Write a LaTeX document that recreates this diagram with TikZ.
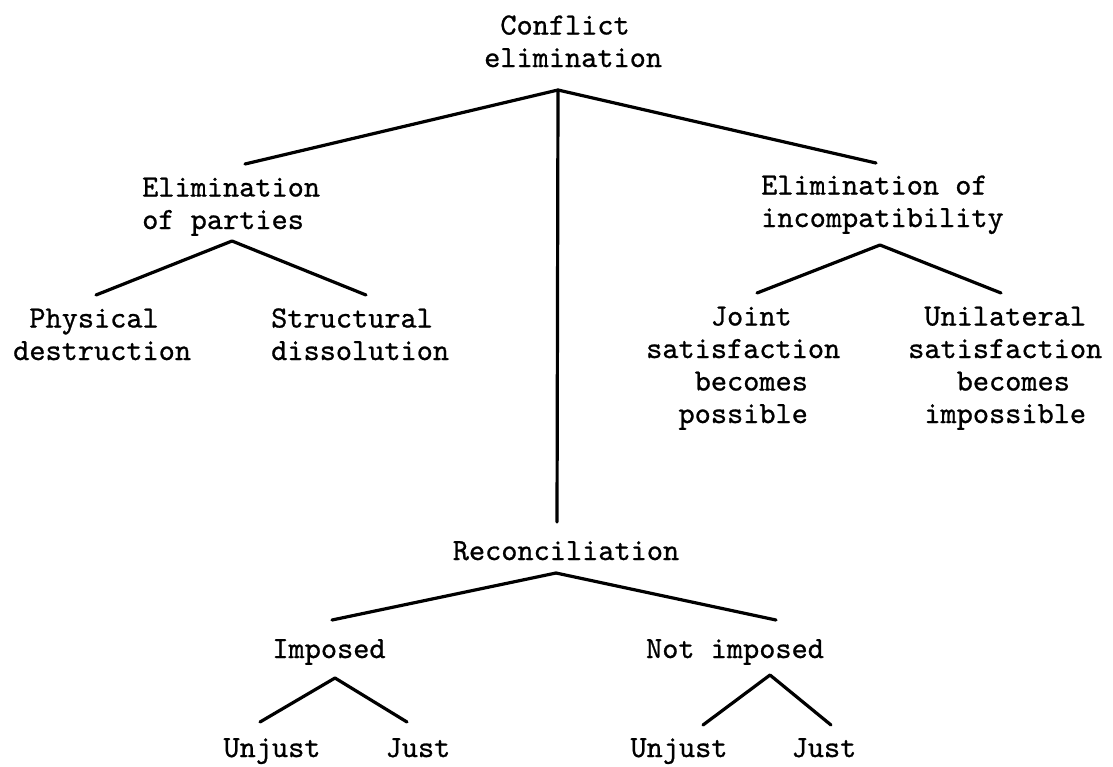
\documentclass[tikz,border=0pt]{standalone}
\usepackage{fontspec}
\setmonofont{lmmono10-regular.otf}[FakeBold=0.8]

\begin{document}
\begin{tikzpicture}[x=1pt, y=-1pt,
    lbl/.style={font=\ttfamily\fontsize{30.8}{32.5}\selectfont, align=center, inner sep=0pt, anchor=base},
    lbll/.style={lbl, align=left, anchor=base west},
    branch/.style={line width=3.2pt, line cap=round, line join=round}]
    \useasboundingbox (0,0) rectangle (1113,766);

    % conflict elimination and its three ways
    \node[lbll] (root) at (484,67) {\phantom{x}Conflict\\elimination};
    \node[lbll] (parties) at (142,229) {Elimination\\of parties};
    \node[lbll] (incompat) at (761,227) {Elimination of\\incompatibility};
    \node[lbl] (recon) at (566,560) {Reconciliation};

    \coordinate (root-out) at (558,90);
    \coordinate (parties-in) at (245,164);
    \coordinate (incompat-in) at (876,163);
    \coordinate (recon-in) at (557,522);
    \draw[branch] (parties-in) -- (root-out) -- (incompat-in);
    \draw[branch] (root-out) -- (recon-in);

    % elimination of parties
    \node[lbll] (physical) at (13,360) {\phantom{x}Physical\\destruction};
    \node[lbll] (structural) at (271,360) {Structural\\dissolution};
    \coordinate (parties-out) at (232,241);
    \coordinate (physical-in) at (96,295);
    \coordinate (structural-in) at (366,295);
    \draw[branch] (physical-in) -- (parties-out) -- (structural-in);

    % elimination of incompatibility
    \node[lbll] (joint) at (646,423) {\phantom{xxxx}Joint\\satisfaction\\\phantom{xxx}becomes\\\phantom{xx}possible};
    \node[lbll] (unilateral) at (908,423) {\phantom{x}Unilateral\\satisfaction\\\phantom{xxx}becomes\\\phantom{x}impossible};
    \coordinate (incompat-out) at (880,245);
    \coordinate (joint-in) at (757,293);
    \coordinate (unilateral-in) at (1001,293);
    \draw[branch] (joint-in) -- (incompat-out) -- (unilateral-in);

    % reconciliation
    \node[lbl] (imposed) at (329,658) {Imposed};
    \node[lbl] (notimposed) at (735,658) {Not imposed};
    \coordinate (recon-out) at (556,573);
    \coordinate (imposed-in) at (332,620);
    \coordinate (notimposed-in) at (776,620);
    \draw[branch] (imposed-in) -- (recon-out) -- (notimposed-in);

    \node[lbl] (unjust-a) at (272,757) {Unjust};
    \node[lbl] (just-a) at (418,757) {Just};
    \coordinate (imposed-out) at (335,678);
    \coordinate (unjust-a-in) at (260,722);
    \coordinate (just-a-in) at (407,722);
    \draw[branch] (unjust-a-in) -- (imposed-out) -- (just-a-in);

    \node[lbl] (unjust-b) at (679,757) {Unjust};
    \node[lbl] (just-b) at (824,757) {Just};
    \coordinate (notimposed-out) at (770,675);
    \coordinate (unjust-b-in) at (703,725);
    \coordinate (just-b-in) at (831,725);
    \draw[branch] (unjust-b-in) -- (notimposed-out) -- (just-b-in);
\end{tikzpicture}
\end{document}
